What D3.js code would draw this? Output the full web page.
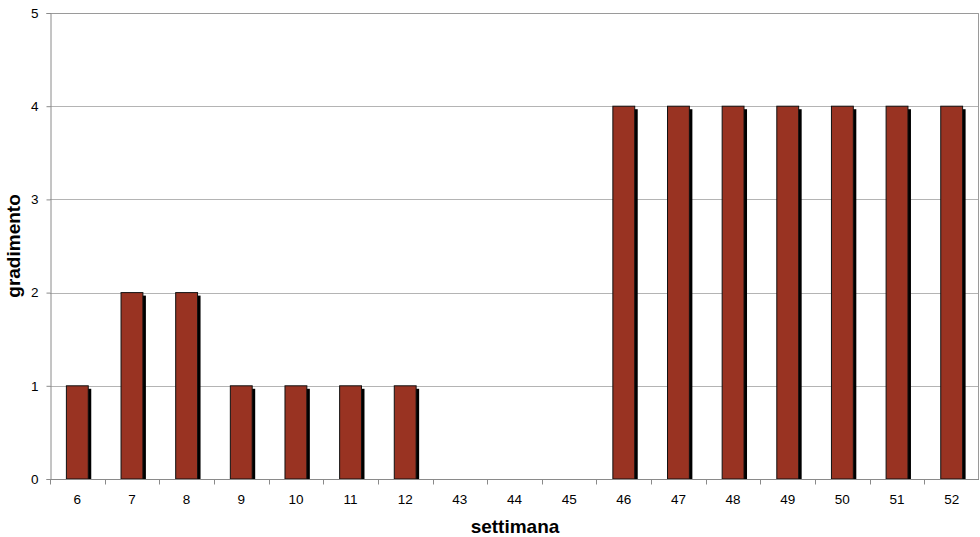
<!DOCTYPE html>
<html>
<head>
<meta charset="utf-8">
<script src="https://cdn.jsdelivr.net/npm/d3@7"></script>
<style>
  body { margin: 0; background: #fff; }
  svg { display: block; font-family: "Liberation Sans", Arial, sans-serif; }
</style>
</head>
<body>
<svg width="980" height="537"></svg>
<script>
// weeks and rating values
var weeks = ["6", "7", "8", "9", "10", "11", "12", "43", "44", "45", "46", "47", "48", "49", "50", "51", "52"];
var rating = [1, 2, 2, 1, 1, 1, 1, 0, 0, 0, 4, 4, 4, 4, 4, 4, 4];
var yTicks = [0, 1, 2, 3, 4, 5];

var margin = { left: 50, top: 13, right: 1, bottom: 58 },
	width = 980,
	height = 537;

var svg = d3.select("svg");

var x = d3
	.scaleBand()
	.domain(weeks)
	.range([margin.left, width - margin.right])
	.paddingInner(0.6)
	.paddingOuter(0.3);

var xb = d3.scaleBand().domain(weeks).range([margin.left, width - margin.right]);

var y = d3
	.scaleLinear()
	.domain([0, 5])
	.range([height - margin.bottom, margin.top]);

// gridlines
svg
	.append("g")
	.selectAll("line")
	.data(yTicks.slice(1))
	.enter()
	.append("line")
	.attr("x1", margin.left)
	.attr("x2", width - margin.right)
	.attr("y1", function (d) { return Math.round(y(d)) + 0.5; })
	.attr("y2", function (d) { return Math.round(y(d)) + 0.5; })
	.style("stroke", "#b4b4b4")
	.style("stroke-width", 1);

// plot border (top & right)
svg
	.append("path")
	.attr("d", "M" + margin.left + "," + (Math.round(y(5)) + 0.5) + "H" + (width - margin.right - 0.5) + "V" + y(0))
	.style("fill", "none")
	.style("stroke", "#9a9a9a");

// bars: shadow then bar
var barData = rating
	.map(function (v, i) { return { w: weeks[i], v: v }; })
	.filter(function (d) { return d.v > 0; });

var bars = svg.append("g");
bars
	.selectAll("rect.shadow")
	.data(barData)
	.enter()
	.append("rect")
	.attr("class", "shadow")
	.attr("x", function (d) { return x(d.w) + 3; })
	.attr("y", function (d) { return y(d.v) + 3; })
	.attr("width", x.bandwidth())
	.attr("height", function (d) { return y(0) - y(d.v) - 3; })
	.style("fill", "#000");

bars
	.selectAll("rect.bar")
	.data(barData)
	.enter()
	.append("rect")
	.attr("class", "bar")
	.attr("x", function (d) { return x(d.w); })
	.attr("y", function (d) { return y(d.v); })
	.attr("width", x.bandwidth())
	.attr("height", function (d) { return y(0) - y(d.v); })
	.style("fill", "#993322")
	.style("stroke", "#111")
	.style("stroke-width", 1);

// y axis
var yAxis = svg
	.append("g")
	.attr("transform", "translate(" + (margin.left + 0.5) + ",0)")
	.call(d3.axisLeft(y).tickValues(yTicks).tickFormat(d3.format("d")).tickSize(4).tickPadding(8));
yAxis.select(".domain").style("stroke", "#8a8a8a");
yAxis.selectAll(".tick line").style("stroke", "#8a8a8a");
yAxis
	.selectAll("text")
	.attr("font-size", null)
	.style("font-size", "13.5px")
	.style("font-family", "'Liberation Sans', Arial, sans-serif")
	.style("fill", "#000");
yAxis.attr("font-size", null).attr("font-family", null);

// x axis with ticks at category boundaries
var xAxisG = svg.append("g").attr("transform", "translate(0," + (Math.round(y(0)) + 0.5) + ")");
xAxisG
	.append("line")
	.attr("x1", margin.left)
	.attr("x2", width - margin.right)
	.style("stroke", "#8a8a8a");
xAxisG
	.selectAll("line.tk")
	.data(weeks)
	.enter()
	.append("line")
	.attr("class", "tk")
	.attr("x1", function (d) { return Math.round(xb(d)) + 0.5; })
	.attr("x2", function (d) { return Math.round(xb(d)) + 0.5; })
	.attr("y1", 0)
	.attr("y2", 5)
	.style("stroke", "#8a8a8a");
xAxisG
	.selectAll("text")
	.data(weeks)
	.enter()
	.append("text")
	.attr("x", function (d) { return xb(d) + xb.bandwidth() / 2; })
	.attr("y", 24)
	.attr("text-anchor", "middle")
	.style("font-size", "13.5px")
	.text(function (d) { return d; });

// axis titles
svg
	.append("text")
	.attr("x", 515)
	.attr("y", 533)
	.attr("text-anchor", "middle")
	.style("font-size", "19px")
	.style("font-weight", "bold")
	.text("settimana");

svg
	.append("text")
	.attr("transform", "translate(20,246) rotate(-90)")
	.attr("text-anchor", "middle")
	.style("font-size", "19px")
	.style("font-weight", "bold")
	.text("gradimento");
</script>
</body>
</html>
